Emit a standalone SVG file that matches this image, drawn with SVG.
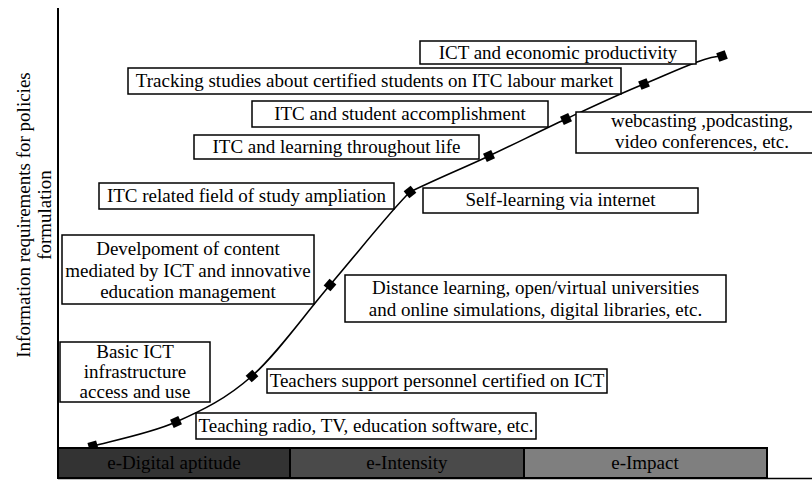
<svg xmlns="http://www.w3.org/2000/svg" width="812" height="481" viewBox="0 0 812 481">
<style>
text{font-family:"Liberation Serif","Times New Roman",Times,serif;font-size:19px;fill:#000;text-anchor:middle}
.box{fill:#fff;stroke:#000;stroke-width:1.5}
.bar{stroke:#000;stroke-width:2}
.mk{fill:#000}
.curve{fill:none;stroke:#000;stroke-width:1.6}
</style>
<defs>
<rect id="m" x="-4.5" y="-4.5" width="9" height="9" class="mk"/>
</defs>
<rect width="812" height="481" fill="#fff"/>
<g id="axes">
<line x1="58" y1="8" x2="58" y2="479" stroke="#000" stroke-width="2"/>
<line x1="58" y1="478.5" x2="812" y2="478.5" stroke="#000" stroke-width="1.5"/>
<text transform="translate(30,215) rotate(-90)">Information requirements for policies</text>
<text transform="translate(51,215) rotate(-90)">formulation</text>
</g>
<g id="connectors">
<path class="curve" d="M93,446 C106.8,442 149.5,433.7 176,422 C202.5,410.3 226.3,398.8 252,376 C277.7,353.2 303.7,315.7 330,285 C356.3,254.3 393,208 410,192 C436.5,179 463,168.2 489,156 C515,143.8 540.2,131 566,119 C591.8,107 618,94.5 644,84 C670,73.5 705,56 722,56"/>
<use href="#m" transform="translate(93,446) rotate(-16)"/>
<use href="#m" transform="translate(176,422) rotate(-24)"/>
<use href="#m" transform="translate(252,376) rotate(-42)"/>
<use href="#m" transform="translate(330,285) rotate(-49)"/>
<use href="#m" transform="translate(410,192) rotate(-39)"/>
<use href="#m" transform="translate(489,156) rotate(-25)"/>
<use href="#m" transform="translate(566,119) rotate(-25)"/>
<use href="#m" transform="translate(644,84) rotate(-22)"/>
<use href="#m" transform="translate(722,56) rotate(-20)"/>
</g>
<g id="n-productivity"><rect class="box" x="420" y="41" width="276" height="23"/><text x="558" y="59">ICT and economic productivity</text></g>
<g id="n-tracking"><rect class="box" x="128" y="68" width="493" height="26"/><text x="374.5" y="87">Tracking studies about certified students on ITC labour market</text></g>
<g id="n-accomplishment"><rect class="box" x="252" y="101" width="296" height="26"/><text x="400" y="120">ITC and student accomplishment</text></g>
<g id="n-lifelong"><rect class="box" x="194" y="135" width="285" height="24"/><text x="336.5" y="153">ITC and learning throughout life</text></g>
<g id="n-field"><rect class="box" x="99" y="183" width="295" height="26"/><text x="246.5" y="202">ITC related field of study ampliation</text></g>
<g id="n-self"><rect class="box" x="423" y="188" width="275" height="25"/><text x="560.5" y="206">Self-learning via internet</text></g>
<g id="n-webcasting"><rect class="box" x="576" y="112" width="240" height="41"/><text x="702" y="127">webcasting ,podcasting,</text><text x="702" y="148">video conferences, etc.</text></g>
<g id="n-content"><rect class="box" x="62" y="235" width="252" height="69"/><text x="188" y="255">Develpoment of content</text><text x="188" y="277">mediated by ICT and innovative</text><text x="188" y="298">education management</text></g>
<g id="n-distance"><rect class="box" x="345" y="275" width="381" height="47"/><text x="535.5" y="294">Distance learning, open/virtual universities</text><text x="535.5" y="316">and online simulations, digital libraries, etc.</text></g>
<g id="n-basic"><rect class="box" x="60" y="342" width="150" height="60"/><text x="135" y="358">Basic ICT</text><text x="135" y="378">infrastructure</text><text x="135" y="398">access and use</text></g>
<g id="n-teachers"><rect class="box" x="267" y="369" width="340" height="24"/><text x="437" y="387">Teachers support personnel certified on ICT</text></g>
<g id="n-teaching"><rect class="box" x="196" y="413" width="340" height="26"/><text x="366" y="432">Teaching radio, TV, education software, etc.</text></g>
<g id="stages">
<g id="s-aptitude"><rect class="bar" x="58" y="448" width="232" height="30" fill="#333"/><text x="174" y="469" fill="#111">e-Digital aptitude</text></g>
<g id="s-intensity"><rect class="bar" x="290" y="448" width="234" height="30" fill="#4a4a4a"/><text x="407" y="469">e-Intensity</text></g>
<g id="s-impact"><rect class="bar" x="524" y="448" width="243" height="30" fill="#7f7f7f"/><text x="645" y="469">e-Impact</text></g>
</g>
</svg>
